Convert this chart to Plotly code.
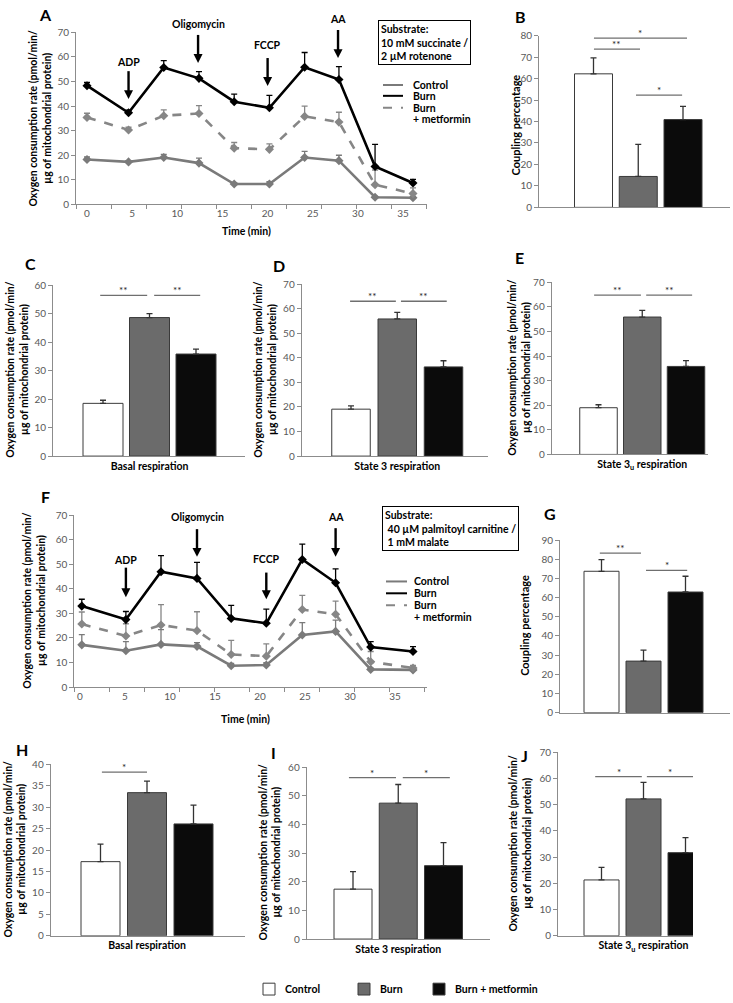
import plotly.graph_objects as go

# ---------------- data ----------------
groups = ["Control", "Burn", "Burn + metformin"]

# Panel A (succinate / rotenone)
time_a = [0.0, 4.6, 8.5, 12.4, 16.3, 20.2, 24.1, 27.9, 31.9, 36.1]
control_a = [18.3, 17.3, 19.1, 16.8, 8.3, 8.3, 19.1, 17.8, 2.9, 2.7]
control_a_err = [1.0, 0.5, 1.2, 2.0, 0.5, 1.0, 2.5, 2.2, 0.4, 0.4]
burn_a = [48.3, 37.3, 55.7, 51.3, 41.8, 39.3, 55.8, 50.8, 15.4, 8.7]
burn_a_err = [1.3, 1.1, 2.8, 2.7, 3.1, 5.1, 6.0, 5.3, 9.0, 1.5]
met_a = [35.4, 30.3, 36.1, 37.0, 22.9, 22.4, 35.8, 33.5, 8.0, 4.4]
met_a_err = [1.7, 1.1, 2.4, 3.2, 2.3, 2.2, 4.2, 4.0, 6.0, 2.3]

# Panel F (palmitoyl carnitine / malate)
time_f = [0.2, 5.1, 9.0, 13.0, 16.8, 20.7, 24.7, 28.4, 32.3, 37.0]
control_f = [17.2, 14.8, 17.4, 16.6, 8.7, 9.0, 21.2, 22.7, 7.2, 7.0]
control_f_err = [4.2, 3.7, 6.0, 1.5, 1.0, 1.0, 5.1, 4.6, 0.5, 0.5]
burn_f = [33.0, 27.5, 47.0, 44.3, 28.0, 26.0, 52.0, 42.5, 16.3, 14.5]
burn_f_err = [2.8, 3.3, 6.6, 6.5, 5.3, 5.8, 6.3, 5.7, 2.2, 2.0]
met_f = [25.7, 20.8, 25.3, 23.0, 13.3, 12.6, 31.6, 29.7, 10.3, 7.8]
met_f_err = [4.9, 5.0, 8.3, 7.7, 5.7, 5.0, 5.8, 5.3, 4.2, 1.0]

time_ticks = [0, 5, 10, 15, 20, 25, 30, 35]

# Bar panels
coupling_b = [62.2, 14.4, 40.9]
coupling_b_err = [7.4, 14.9, 6.1]
basal_c = [18.5, 48.6, 35.8]
basal_c_err = [1.1, 1.4, 1.7]
state3_d = [19.1, 55.8, 36.3]
state3_d_err = [1.3, 2.7, 2.5]
state3u_e = [19.0, 55.9, 35.8]
state3u_e_err = [1.2, 2.7, 2.4]
coupling_g = [73.7, 26.9, 62.9]
coupling_g_err = [6.1, 5.7, 8.2]
basal_h = [17.3, 33.4, 26.1]
basal_h_err = [4.1, 2.7, 4.4]
state3_i = [17.4, 47.4, 25.6]
state3_i_err = [6.1, 6.5, 8.0]
state3u_j = [21.3, 52.2, 31.7]
state3u_j_err = [4.8, 6.3, 5.7]

# ---------------- style / helpers ----------------
W, H = 733, 1003
FONT = "Lato"
AXC = "#8c8c8c"
TICKF = dict(family=FONT, size=10, color="#595959")
BAR_COLORS = ["#ffffff", "#6b6b6b", "#0b0b0b"]
BAR_EDGE = "#3a3a3a"
CTRL_C = "#7a7a7a"
BURN_C = "#000000"
MET_C = "#868686"


def fx(p):
    return p / W


def fy(p):
    return 1 - p / H


def xr(n):
    return "x" if n == 1 else f"x{n}"


def yr(n):
    return "y" if n == 1 else f"y{n}"


def xk(n):
    return "xaxis" if n == 1 else f"xaxis{n}"


def yk(n):
    return "yaxis" if n == 1 else f"yaxis{n}"


fig = go.Figure()
axes = {}
ann = []
shp = []


def set_axes(n, xpx, ypx, xrange, yrange, ydtick, xextra=None):
    xa = dict(domain=[fx(xpx[0]), fx(xpx[1])], range=xrange, anchor=yr(n),
              showline=True, linecolor=AXC, linewidth=1, showgrid=False,
              zeroline=False, ticks="", tickfont=TICKF, fixedrange=True)
    if xextra:
        xa.update(xextra)
    ya = dict(domain=[fy(ypx[1]), fy(ypx[0])], range=yrange, anchor=xr(n),
              showline=True, linecolor=AXC, linewidth=1, showgrid=False,
              zeroline=False, ticks="outside", ticklen=4, tickcolor=AXC,
              tickmode="linear", tick0=0, dtick=ydtick, tickfont=TICKF,
              fixedrange=True)
    axes[xk(n)] = xa
    axes[yk(n)] = ya


def text(x, y, t, size=10, bold=True, xanchor="center", yanchor="middle",
         angle=0, color="#000000", align="center"):
    ann.append(dict(x=fx(x), y=fy(y), xref="paper", yref="paper",
                    text=f"<b>{t}</b>" if bold else t, showarrow=False,
                    xanchor=xanchor, yanchor=yanchor, textangle=angle,
                    align=align,
                    font=dict(family=FONT, size=size, color=color)))


OCR_TITLE = "Oxygen consumption rate (pmol/min/<br>µg of mitochondrial protein)"


def line_panel(n, t, series, xpx, ypx, label0_px, per_unit, arrows,
               time_title_y):
    x0 = (xpx[0] - label0_px) / per_unit
    x1 = (xpx[1] - label0_px) / per_unit
    set_axes(n, xpx, ypx, [x0, x1], [0, 70], 10,
             dict(tickmode="array", tickvals=time_ticks,
                  ticktext=[str(v) for v in time_ticks],
                  minor=dict(ticks="outside", ticklen=4, tickcolor=AXC,
                             tickmode="linear", tick0=x0,
                             dtick=35.0 / per_unit)))
    for vals, errs, color, dash in series:
        fig.add_trace(go.Scatter(
            x=t, y=vals, mode="lines+markers", xaxis=xr(n), yaxis=yr(n),
            line=dict(color=color, width=2.6, dash=dash),
            marker=dict(symbol="diamond", size=7, color=color),
            error_y=dict(type="data", symmetric=False, array=errs,
                         arrayminus=[0] * len(errs), color=color,
                         thickness=1.3, width=3),
            showlegend=False, cliponaxis=False))
    # treatment-injection arrows (decoration in page coordinates)
    for name, tv, ytxt, ytail, ytip in arrows:
        xp = label0_px + per_unit * tv
        shp.append(dict(type="line", xref="paper", yref="paper",
                        x0=fx(xp), x1=fx(xp), y0=fy(ytail), y1=fy(ytip - 8),
                        line=dict(color="#000000", width=2.4)))
        shp.append(dict(type="path", xref="paper", yref="paper",
                        path=(f"M {fx(xp - 4.5)},{fy(ytip - 9)} "
                              f"L {fx(xp + 4.5)},{fy(ytip - 9)} "
                              f"L {fx(xp)},{fy(ytip)} Z"),
                        fillcolor="#000000", line=dict(width=0)))
        text(xp, ytxt, name, size=10.5)
    text((xpx[0] + xpx[1]) / 2 - 5, time_title_y, "Time (min)", size=10.5)


def bar_panel(n, vals, errs, cat_text, xpx, ypx, centers_px, bar_px, ymax,
              dtick, sigs):
    c0 = centers_px[0]
    s = (centers_px[2] - centers_px[0]) / 2
    xrange = [(xpx[0] - c0) / s, (xpx[1] - c0) / s]
    if cat_text:
        extra = dict(tickmode="array", tickvals=[1],
                     ticktext=[f"<b>{cat_text}</b>"],
                     tickfont=dict(family=FONT, size=10.5, color="#000000"))
    else:
        extra = dict(showticklabels=False)
    set_axes(n, xpx, ypx, xrange, [0, ymax], dtick, extra)
    fig.add_trace(go.Bar(
        x=[0, 1, 2], y=vals, width=bar_px / s, xaxis=xr(n), yaxis=yr(n),
        marker=dict(color=BAR_COLORS, line=dict(color=BAR_EDGE, width=1)),
        error_y=dict(type="data", symmetric=False, array=errs,
                     arrayminus=[0, 0, 0], color="#333333", thickness=1.3,
                     width=3),
        showlegend=False))
    for a, b, yv, star in sigs:
        shp.append(dict(type="line", xref=xr(n), yref=yr(n), x0=a, x1=b,
                        y0=yv, y1=yv, line=dict(color="#6f6f6f", width=1.3)))
        ann.append(dict(x=(a + b) / 2, y=yv, xref=xr(n), yref=yr(n),
                        text=star, showarrow=False, yanchor="bottom",
                        yshift=-3,
                        font=dict(family=FONT, size=10, color="#222222")))


# ---------------- Panel A ----------------
line_panel(1, time_a,
           [(control_a, control_a_err, CTRL_C, "solid"),
            (met_a, met_a_err, MET_C, "dash"),
            (burn_a, burn_a_err, BURN_C, "solid")],
           xpx=(76, 427), ypx=(25.7, 200), label0_px=87, per_unit=9.03,
           arrows=[("ADP", 4.6, 56, 65, 93.3),
                   ("Oligomycin", 12.3, 17.3, 28.3, 56.7),
                   ("FCCP", 20.0, 38.3, 51.7, 80),
                   ("AA", 27.8, 11.7, 23.3, 51.7)],
           time_title_y=227)

# ---------------- Panel F ----------------
line_panel(6, time_f,
           [(control_f, control_f_err, CTRL_C, "solid"),
            (met_f, met_f_err, MET_C, "dash"),
            (burn_f, burn_f_err, BURN_C, "solid")],
           xpx=(74.3, 427), ypx=(515, 689), label0_px=80, per_unit=9.0,
           arrows=[("ADP", 5.1, 560, 568, 598),
                   ("Oligomycin", 13.0, 517, 529, 557),
                   ("FCCP", 20.7, 559, 573, 600),
                   ("AA", 28.4, 517, 528, 557)],
           time_title_y=721)

# ---------------- Bar panels ----------------
bar_panel(2, coupling_b, coupling_b_err, "", (539, 730), (29, 203),
          (593.5, 637.5, 683), 38, 80, 10,
          [(0.01, 2.09, 78.8, "*"), (0.01, 1.04, 73.7, "**"),
           (0.95, 1.98, 52.3, "*")])
bar_panel(3, basal_c, basal_c_err, "Basal respiration", (53, 245),
          (281.7, 455), (103, 150, 196), 40, 60, 10,
          [(-0.06, 0.95, 56.4, "**"), (1.1, 2.09, 56.4, "**")])
bar_panel(4, state3_d, state3_d_err, "State 3 respiration", (301.7, 488),
          (280.7, 455), (351, 398, 443.5), 38.5, 70, 10,
          [(-0.02, 0.97, 63.0, "**"), (1.08, 2.07, 63.0, "**")])
bar_panel(5, state3u_e, state3u_e_err, "State 3<sub>u</sub> respiration",
          (551.7, 708), (279, 453.3), (598.5, 642, 686), 37.5, 70, 10,
          [(-0.1, 0.97, 64.8, "**"), (1.09, 2.14, 64.8, "**")])
bar_panel(7, coupling_g, coupling_g_err, "", (560, 730), (540, 715),
          (601.5, 644.5, 685.5), 35, 90, 10,
          [(-0.04, 0.94, 83.2, "**"), (1.06, 2.04, 74.2, "*")])
bar_panel(8, basal_h, basal_h_err, "Basal respiration", (50.7, 245),
          (767.3, 941), (100.5, 147.5, 193.5), 39, 40, 5,
          [(0.03, 1.0, 38.2, "*")])
bar_panel(9, state3_i, state3_i_err, "State 3 respiration", (306.7, 490),
          (770, 944.3), (353, 398, 443.5), 38, 60, 10,
          [(-0.09, 0.95, 56.3, "*"), (1.1, 2.14, 56.3, "*")])
bar_panel(10, state3u_j, state3u_j_err, "State 3<sub>u</sub> respiration",
          (558, 693), (755, 941), (601.5, 643.5, 685.5), 35, 70, 10,
          [(-0.15, 0.96, 60.7, "*"), (1.08, 2.18, 60.7, "*")])

# ---------------- Axis titles ----------------
TS = 10.5
text(40, 113, OCR_TITLE, size=TS, angle=-90)
text(515, 120, "Coupling percentage", size=11, angle=-90)
text(17.5, 368, OCR_TITLE, size=TS, angle=-90)
text(265.5, 368, OCR_TITLE, size=TS, angle=-90)
text(519.5, 366, OCR_TITLE, size=TS, angle=-90)
text(34.5, 602, OCR_TITLE, size=TS, angle=-90)
text(525, 627, "Coupling percentage", size=11, angle=-90)
text(14.5, 854, OCR_TITLE, size=TS, angle=-90)
text(269.5, 857, OCR_TITLE, size=TS, angle=-90)
text(520.5, 848, OCR_TITLE, size=TS, angle=-90)

# ---------------- Panel letters ----------------
for letter, lx, ly in [("A", 45, 8), ("B", 520, 10), ("C", 30, 260),
                       ("D", 279, 262), ("E", 519, 254), ("F", 45, 496),
                       ("G", 550, 513), ("H", 22, 752), ("I", 273, 755),
                       ("J", 524, 758)]:
    text(lx, ly, letter, size=16)

# ---------------- Substrate boxes ----------------
ann.append(dict(x=fx(378), y=fy(13), xref="paper", yref="paper",
                xanchor="left", yanchor="top", showarrow=False, align="left",
                text="<b>Substrate:</b><br><b>10 mM succinate /</b><br><b>2 µM rotenone</b>",
                bordercolor="#000000", borderwidth=1, borderpad=2,
                font=dict(family=FONT, size=10.5, color="#000000")))
ann.append(dict(x=fx(382), y=fy(506), xref="paper", yref="paper",
                xanchor="left", yanchor="top", showarrow=False, align="left",
                text="<b>Substrate:</b><br><b> 40 µM palmitoyl carnitine /</b><br><b> 1 mM malate</b>",
                bordercolor="#000000", borderwidth=1, borderpad=2,
                font=dict(family=FONT, size=10.5, color="#000000")))


# ---------------- Line legends ----------------
def line_legend(lx0, lx1, tx, rows):
    styles = [(CTRL_C, "solid", "Control"), (BURN_C, "solid", "Burn"),
              (MET_C, "dash", "Burn")]
    for (c, d, lab), yy in zip(styles, rows[:3]):
        shp.append(dict(type="line", xref="paper", yref="paper",
                        x0=fx(lx0), x1=fx(lx1), y0=fy(yy), y1=fy(yy),
                        line=dict(color=c, width=2, dash=d)))
        text(tx, yy, lab, size=10.5, xanchor="left")
    text(tx, rows[3], "+ metformin", size=10.5, xanchor="left")


line_legend(383, 403, 411, [79, 90, 102, 113])
line_legend(386, 407, 412, [582, 594, 606, 618])

# ---------------- Bottom legend ----------------
for (bx, tx, lab), col in zip([(263, 283, "Control"), (358, 378, "Burn"),
                               (433, 453, "Burn + metformin")], BAR_COLORS):
    shp.append(dict(type="rect", xref="paper", yref="paper",
                    x0=fx(bx), x1=fx(bx + 12), y0=fy(1001), y1=fy(989),
                    fillcolor=col, line=dict(color=BAR_EDGE, width=1)))
    text(tx, 995, lab, size=10.5, xanchor="left")

fig.update_layout(width=W, height=H, margin=dict(l=0, r=0, t=0, b=0),
                  paper_bgcolor="white", plot_bgcolor="white",
                  font=dict(family=FONT), showlegend=False,
                  annotations=ann, shapes=shp, bargap=0, **axes)

fig.write_html("out.html",
               config={"displayModeBar": False, "staticPlot": True},
               post_script="document.body.style.margin='0px';"
                           "document.body.style.overflow='hidden';")
